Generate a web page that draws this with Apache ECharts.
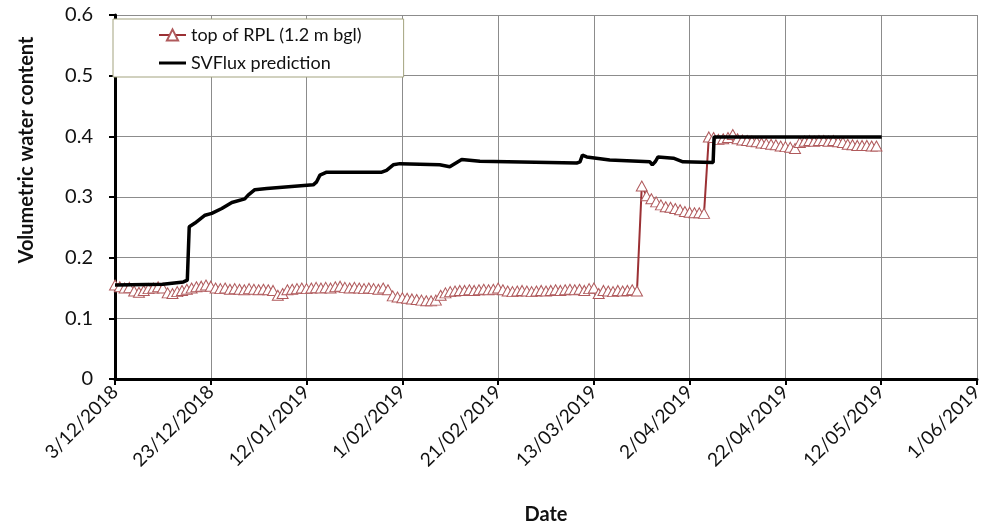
<!DOCTYPE html>
<html>
<head>
<meta charset="utf-8">
<style>
  html, body { margin: 0; padding: 0; background: #fff; }
  #chart { width: 1000px; height: 532px; }
</style>
<script src="https://cdn.jsdelivr.net/npm/echarts@6/dist/echarts.min.js"></script>
</head>
<body>
<div id="chart"></div>
<script>
// Date tick labels, one every 20 days from 3 Dec 2018 (day 0)
const dateTicks = ['3/12/2018', '23/12/2018', '12/01/2019', '1/02/2019', '21/02/2019',
                   '13/03/2019', '2/04/2019', '22/04/2019', '12/05/2019', '1/06/2019'];
const yTicks = [0, 0.1, 0.2, 0.3, 0.4, 0.5, 0.6];

// Measured volumetric water content at top of RPL, one reading per day from day 0
const rplValues = [
  0.155, 0.152, 0.150, 0.151, 0.145, 0.143, 0.146, 0.149, 0.150, 0.152,
  0.150, 0.142, 0.141, 0.144, 0.146, 0.148, 0.150, 0.152, 0.153, 0.155,
  0.153, 0.150, 0.149, 0.150, 0.148, 0.149, 0.148, 0.147, 0.149, 0.148,
  0.147, 0.148, 0.147, 0.146, 0.138, 0.141, 0.147, 0.148, 0.149, 0.150,
  0.149, 0.150, 0.151, 0.150, 0.151, 0.150, 0.152, 0.153, 0.151, 0.150,
  0.151, 0.150, 0.149, 0.150, 0.149, 0.148, 0.150, 0.147, 0.137, 0.135,
  0.134, 0.133, 0.132, 0.131, 0.130, 0.129, 0.129, 0.130, 0.138, 0.142,
  0.144, 0.145, 0.146, 0.146, 0.147, 0.146, 0.147, 0.148, 0.147, 0.148,
  0.150, 0.147, 0.145, 0.144, 0.145, 0.146, 0.145, 0.144, 0.145, 0.146,
  0.145, 0.146, 0.147, 0.146, 0.147, 0.148, 0.147, 0.148, 0.146, 0.149,
  0.150, 0.141, 0.146, 0.145, 0.144, 0.146, 0.145, 0.146, 0.147, 0.145,
  0.318, 0.302, 0.297, 0.292, 0.287, 0.284, 0.283, 0.281, 0.279, 0.276,
  0.275, 0.274, 0.274, 0.273, 0.399, 0.398, 0.395, 0.396, 0.398, 0.403,
  0.396, 0.394, 0.393, 0.392, 0.391, 0.389, 0.388, 0.387, 0.386, 0.384,
  0.383, 0.382, 0.380, 0.390, 0.392, 0.393, 0.392, 0.393, 0.393, 0.392,
  0.393, 0.391, 0.390, 0.387, 0.386, 0.385, 0.385, 0.385, 0.384, 0.384
];

// SVFlux model output: day offsets and predicted water content
const svDays = [0, 10, 14.3, 15.1, 15.5, 16.7, 18.8, 20.2, 22.3, 24.4, 27.1, 27.8, 29.2, 31.7,
                41.4, 42.1, 42.8, 44.2, 55.7, 56.7, 58.1, 59.5, 67.8, 69.9, 70.3, 72.4, 76.2,
                96.4, 97.1, 97.6, 98.5, 103.3, 111.7, 112.2, 112.8, 113.4, 116.6, 118.6,
                124.9, 125.1, 160.1];
const svValues = [0.155, 0.156, 0.160, 0.163, 0.251, 0.257, 0.270, 0.273, 0.281, 0.291, 0.297, 0.303, 0.312, 0.314,
                  0.320, 0.325, 0.336, 0.341, 0.341, 0.344, 0.353, 0.355, 0.353, 0.350, 0.352, 0.362, 0.359,
                  0.356, 0.358, 0.369, 0.366, 0.361, 0.358, 0.353, 0.358, 0.366, 0.364, 0.358,
                  0.357, 0.399, 0.399];

const FONT = 'Lato, "DejaVu Sans", sans-serif';

const rplData = rplValues.map((v, i) => [i, v]);
const svData = svDays.map((d, i) => [d, svValues[i]]);

const chart = echarts.init(document.getElementById('chart'), null, { renderer: 'canvas' });

chart.setOption({
  animation: false,
  backgroundColor: '#ffffff',
  grid: { left: 115, right: 23, top: 15, bottom: 153, containLabel: false },
  legend: {
    orient: 'vertical',
    left: 113,
    top: 19,
    backgroundColor: '#ffffff',
    borderColor: '#a3a37e',
    borderWidth: 1,
    borderRadius: 0,
    padding: [7, 42, 5, 45],
    itemWidth: 27,
    itemHeight: 14,
    itemGap: 10,
    textStyle: { fontFamily: FONT, fontSize: 18, color: '#111' },
    data: [
      { name: 'top of RPL (1.2 m bgl)' },
      { name: 'SVFlux prediction', icon: 'path://M0,0 L27,0 L27,3 L0,3 Z' }
    ]
  },
  xAxis: {
    type: 'value',
    min: 0,
    max: 180,
    interval: 20,
    name: 'Date',
    nameLocation: 'middle',
    nameGap: 126,
    nameTextStyle: { fontFamily: FONT, fontSize: 20, fontWeight: 'bold', color: '#111' },
    axisLine: { onZero: false, lineStyle: { color: '#000', width: 3 } },
    axisTick: { show: true, inside: false, length: 6, lineStyle: { color: '#000', width: 2 } },
    axisLabel: {
      rotate: 45,
      margin: 10,
      fontFamily: FONT,
      fontSize: 19,
      color: '#111',
      formatter: v => dateTicks[Math.round(v / 20)] || ''
    },
    splitLine: { show: true, lineStyle: { color: '#8c8c8c', width: 1 } }
  },
  yAxis: {
    type: 'value',
    min: 0,
    max: 0.6,
    interval: 0.1,
    axisLine: { show: true, onZero: false, lineStyle: { color: '#000', width: 3 } },
    axisTick: { show: true, inside: false, length: 6, lineStyle: { color: '#000', width: 2 } },
    axisLabel: {
      margin: 22,
      fontFamily: FONT,
      fontSize: 20,
      color: '#111',
      formatter: v => {
        const t = yTicks.find(x => Math.abs(x - v) < 1e-6);
        return t === undefined ? '' : String(t);
      }
    },
    splitLine: { show: true, lineStyle: { color: '#8c8c8c', width: 1 } }
  },
  graphic: [{
    type: 'text',
    x: 27,
    y: 150,
    rotation: Math.PI / 2,
    style: {
      text: 'Volumetric water content',
      font: 'bold 20px ' + FONT,
      fill: '#111',
      align: 'center',
      verticalAlign: 'middle'
    }
  }],
  series: [
    {
      name: 'top of RPL (1.2 m bgl)',
      type: 'line',
      data: rplData,
      symbol: 'triangle',
      symbolSize: [11, 10],
      showAllSymbol: true,
      lineStyle: { color: '#9b3034', width: 2 },
      itemStyle: { color: '#ffffff', borderColor: '#b05a5c', borderWidth: 1 },
      emphasis: { disabled: true },
      z: 2
    },
    {
      name: 'SVFlux prediction',
      type: 'line',
      data: svData,
      symbol: 'none',
      smooth: false,
      lineStyle: { color: '#000000', width: 3.5 },
      itemStyle: { color: '#000000' },
      emphasis: { disabled: true },
      z: 3
    }
  ]
});
</script>
</body>
</html>
